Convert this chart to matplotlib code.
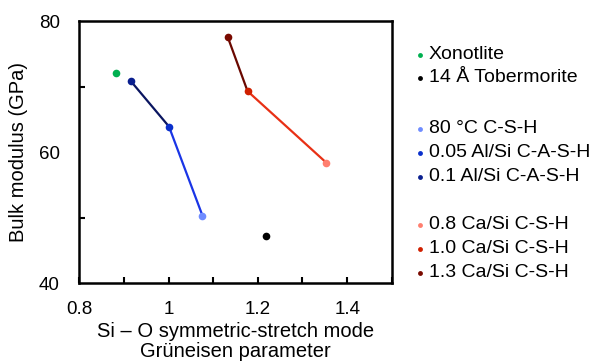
import matplotlib.pyplot as plt
from matplotlib.lines import Line2D
from matplotlib.ticker import MultipleLocator

plt.rcParams['font.family'] = ['Liberation Sans', 'DejaVu Sans']

# single reference points
xon_x, xon_y = [0.883], [72.0]
tob_x, tob_y = [1.218], [47.2]

# C-A-S-H series: 0.1 Al/Si, 0.05 Al/Si, 80 C
cash_labels = ['0.1 Al/Si C-A-S-H', '0.05 Al/Si C-A-S-H', '80 °C C-S-H']
cash_x = [0.916, 1.001, 1.076]
cash_y = [70.8, 63.9, 50.3]
cash_colors = ['#0a1f8f', '#0a30cc', '#6f8cff']
cash_line_colors = ['#0a1560', '#1a35e6']

# C-S-H Ca/Si series: 1.3, 1.0, 0.8
csh_labels = ['1.3 Ca/Si C-S-H', '1.0 Ca/Si C-S-H', '0.8 Ca/Si C-S-H']
csh_x = [1.133, 1.177, 1.353]
csh_y = [77.5, 69.3, 58.4]
csh_colors = ['#7a0a00', '#d02000', '#ff7f6f']
csh_line_colors = ['#6a0800', '#e83015']

fig = plt.figure(figsize=(6, 3.64), dpi=100)
ax = fig.add_axes([0.132, 0.2225, 0.521, 0.7195])

for i in range(2):
    ax.plot(cash_x[i:i + 2], cash_y[i:i + 2], color=cash_line_colors[i], lw=1.6, zorder=2)
    ax.plot(csh_x[i:i + 2], csh_y[i:i + 2], color=csh_line_colors[i], lw=1.6, zorder=2)
for x, y, c in zip(cash_x + csh_x, cash_y + csh_y, cash_colors + csh_colors):
    ax.plot(x, y, 'o', color=c, ms=5.5, mec='none', zorder=3)
ax.plot(xon_x, xon_y, 'o', color='#00b050', ms=5.5, mec='none')
ax.plot(tob_x, tob_y, 'o', color='black', ms=5.5, mec='none')

ax.set_xlim(0.8, 1.5)
ax.set_ylim(40, 80)
ax.xaxis.set_minor_locator(MultipleLocator(0.1))
ax.yaxis.set_minor_locator(MultipleLocator(10))
ax.set_xticks([0.8, 1.0, 1.2, 1.4])
ax.set_xticklabels(['0.8', '1', '1.2', '1.4'])
ax.set_yticks([40, 60, 80])
ax.tick_params(which='both', direction='in', length=4, width=1.5, labelsize=13.5)
ax.tick_params(axis='x', pad=13)
ax.tick_params(axis='y', pad=14)
ax.tick_params(axis='y', which='major', length=0)
ax.tick_params(axis='y', which='minor', length=4)
for s in ax.spines.values():
    s.set_linewidth(1.8)

ax.set_xlabel('Si – O symmetric-stretch mode\nGrüneisen parameter', fontsize=14.5,
              linespacing=1.05, labelpad=3)
ax.set_ylabel('Bulk modulus (GPa)', fontsize=14.5, labelpad=8)

# legend, drawn as rows of dot + text (py = row centre in pixels)
legend_rows = [('Xonotlite', '#00b050', 54), ('14 Å Tobermorite', 'black', 77),
               (cash_labels[2], cash_colors[2], 128), (cash_labels[1], cash_colors[1], 152),
               (cash_labels[0], cash_colors[0], 176),
               (csh_labels[2], csh_colors[2], 224), (csh_labels[1], csh_colors[1], 248),
               (csh_labels[0], csh_colors[0], 272)]
for lab, c, py in legend_rows:
    fig.add_artist(Line2D([420 / 600], [1 - (py + 1) / 364], marker='o', color=c, ms=3.5,
                          mec='none', ls='none', transform=fig.transFigure))
    fig.text(429 / 600, 1 - (py + 5) / 364, lab, fontsize=14, va='baseline', ha='left')

fig.savefig('out.png', dpi=100)
